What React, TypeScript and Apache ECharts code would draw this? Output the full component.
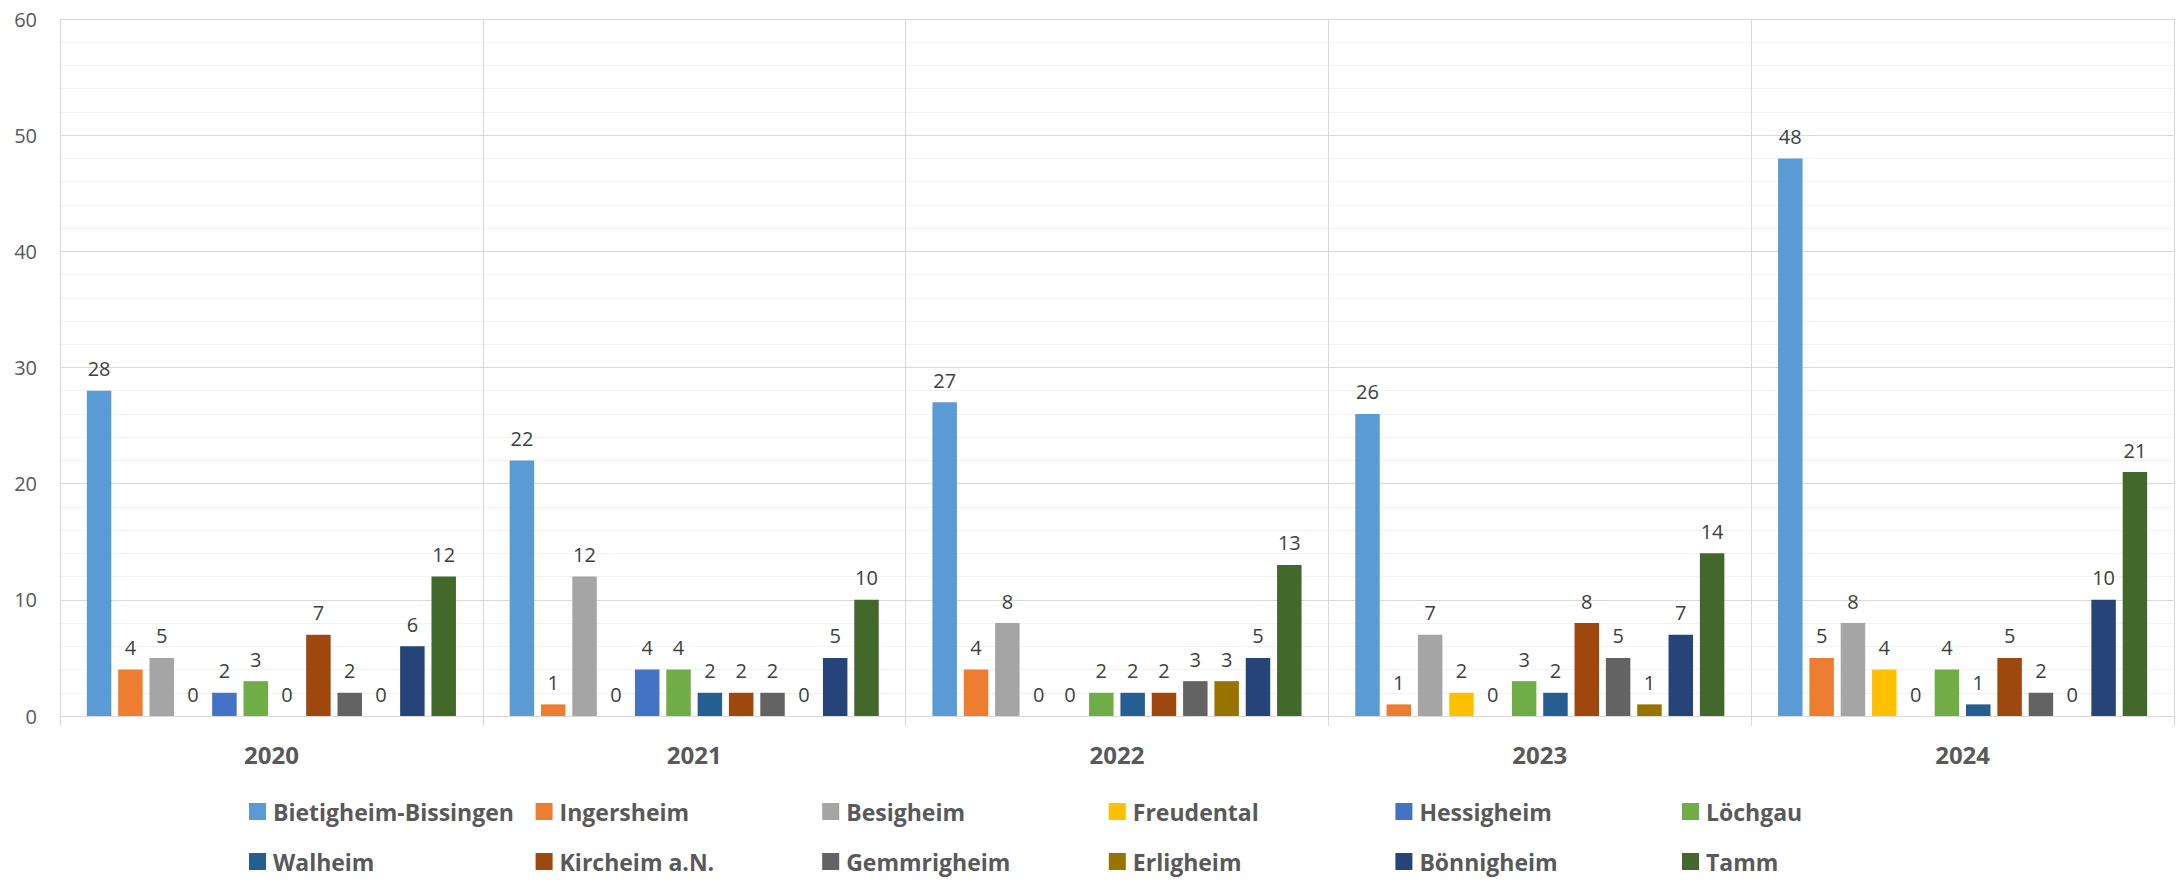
import React, { useEffect, useRef } from "react";
import * as echarts from "echarts";

const years = ["2020", "2021", "2022", "2023", "2024"];
const names = [
  "Bietigheim-Bissingen",
  "Ingersheim",
  "Besigheim",
  "Freudental",
  "Hessigheim",
  "Löchgau",
  "Walheim",
  "Kircheim a.N.",
  "Gemmrigheim",
  "Erligheim",
  "Bönnigheim",
  "Tamm",
];
const colors = [
  "#5B9BD5",
  "#ED7D31",
  "#A5A5A5",
  "#FFC000",
  "#4472C4",
  "#70AD47",
  "#255E91",
  "#9E480E",
  "#636363",
  "#997300",
  "#264478",
  "#43682B",
];
const bietigheim = [28, 22, 27, 26, 48];
const ingersheim = [4, 1, 4, 1, 5];
const besigheim = [5, 12, 8, 7, 8];
const freudental = [0, 0, 0, 2, 4];
const hessigheim = [2, 4, 0, 0, 0];
const loechgau = [3, 4, 2, 3, 4];
const walheim = [0, 2, 2, 2, 1];
const kircheim = [7, 2, 2, 8, 5];
const gemmrigheim = [2, 2, 3, 5, 2];
const erligheim = [0, 0, 3, 1, 0];
const boennigheim = [6, 5, 5, 7, 10];
const tamm = [12, 10, 13, 14, 21];
const seriesValues = [
  bietigheim,
  ingersheim,
  besigheim,
  freudental,
  hessigheim,
  loechgau,
  walheim,
  kircheim,
  gemmrigheim,
  erligheim,
  boennigheim,
  tamm,
];

const FONT = "'Open Sans', 'Noto Sans', sans-serif";

export default function App() {
  const ref = useRef<HTMLDivElement>(null);
  useEffect(() => {
    if (!ref.current) return;
    const chart = echarts.init(ref.current, undefined, { renderer: "svg" });
    const legends = names.map((n, i) => ({
      data: [n],
      left: 249 + (i % 6) * 286.6,
      top: i < 6 ? 800 : 850,
      orient: "horizontal",
      itemWidth: 17,
      itemHeight: 17,
      itemGap: 0,
      padding: 0,
      icon: "rect",
      selectedMode: false,
      textStyle: {
        fontFamily: FONT,
        fontSize: 23,
        fontWeight: "bold",
        color: "#595959",
        padding: [0, 0, 0, 2],
      },
    }));
    chart.setOption({
      animation: false,
      color: colors,
      grid: { left: 60, right: 2, top: 19, bottom: 164, containLabel: false },
      legend: legends,
      xAxis: {
        type: "category",
        data: years,
        boundaryGap: true,
        axisLine: { show: true, lineStyle: { color: "#D9D9D9", width: 1 } },
        axisTick: { show: true, length: 10, lineStyle: { color: "#D9D9D9" } },
        splitLine: { show: true, lineStyle: { color: "#D9D9D9", width: 1 } },
        axisLabel: {
          margin: 26,
          fontFamily: FONT,
          fontSize: 24,
          fontWeight: "bold",
          color: "#595959",
        },
      },
      yAxis: {
        type: "value",
        min: 0,
        max: 60,
        interval: 10,
        axisLine: { show: false },
        axisTick: { show: false },
        axisLabel: {
          margin: 23,
          fontFamily: FONT,
          fontSize: 20,
          color: "#595959",
        },
        splitLine: { show: true, lineStyle: { color: "#D9D9D9", width: 1 } },
        minorTick: { show: false, splitNumber: 5 },
        minorSplitLine: { show: true, lineStyle: { color: "#F2F2F2", width: 1 } },
      },
      series: names.map((n, i) => ({
        name: n,
        type: "bar",
        data: seriesValues[i],
        barGap: "28%",
        barCategoryGap: "12.7%",
        itemStyle: { color: colors[i] },
        label: {
          show: true,
          position: "top",
          distance: 12,
          fontFamily: FONT,
          fontSize: 20,
          color: "#404040",
        },
      })),
    });
    return () => chart.dispose();
  }, []);
  return (
    <div
      ref={ref}
      style={{ position: "fixed", left: 0, top: 0, width: 2176, height: 880, background: "#fff" }}
    />
  );
}
